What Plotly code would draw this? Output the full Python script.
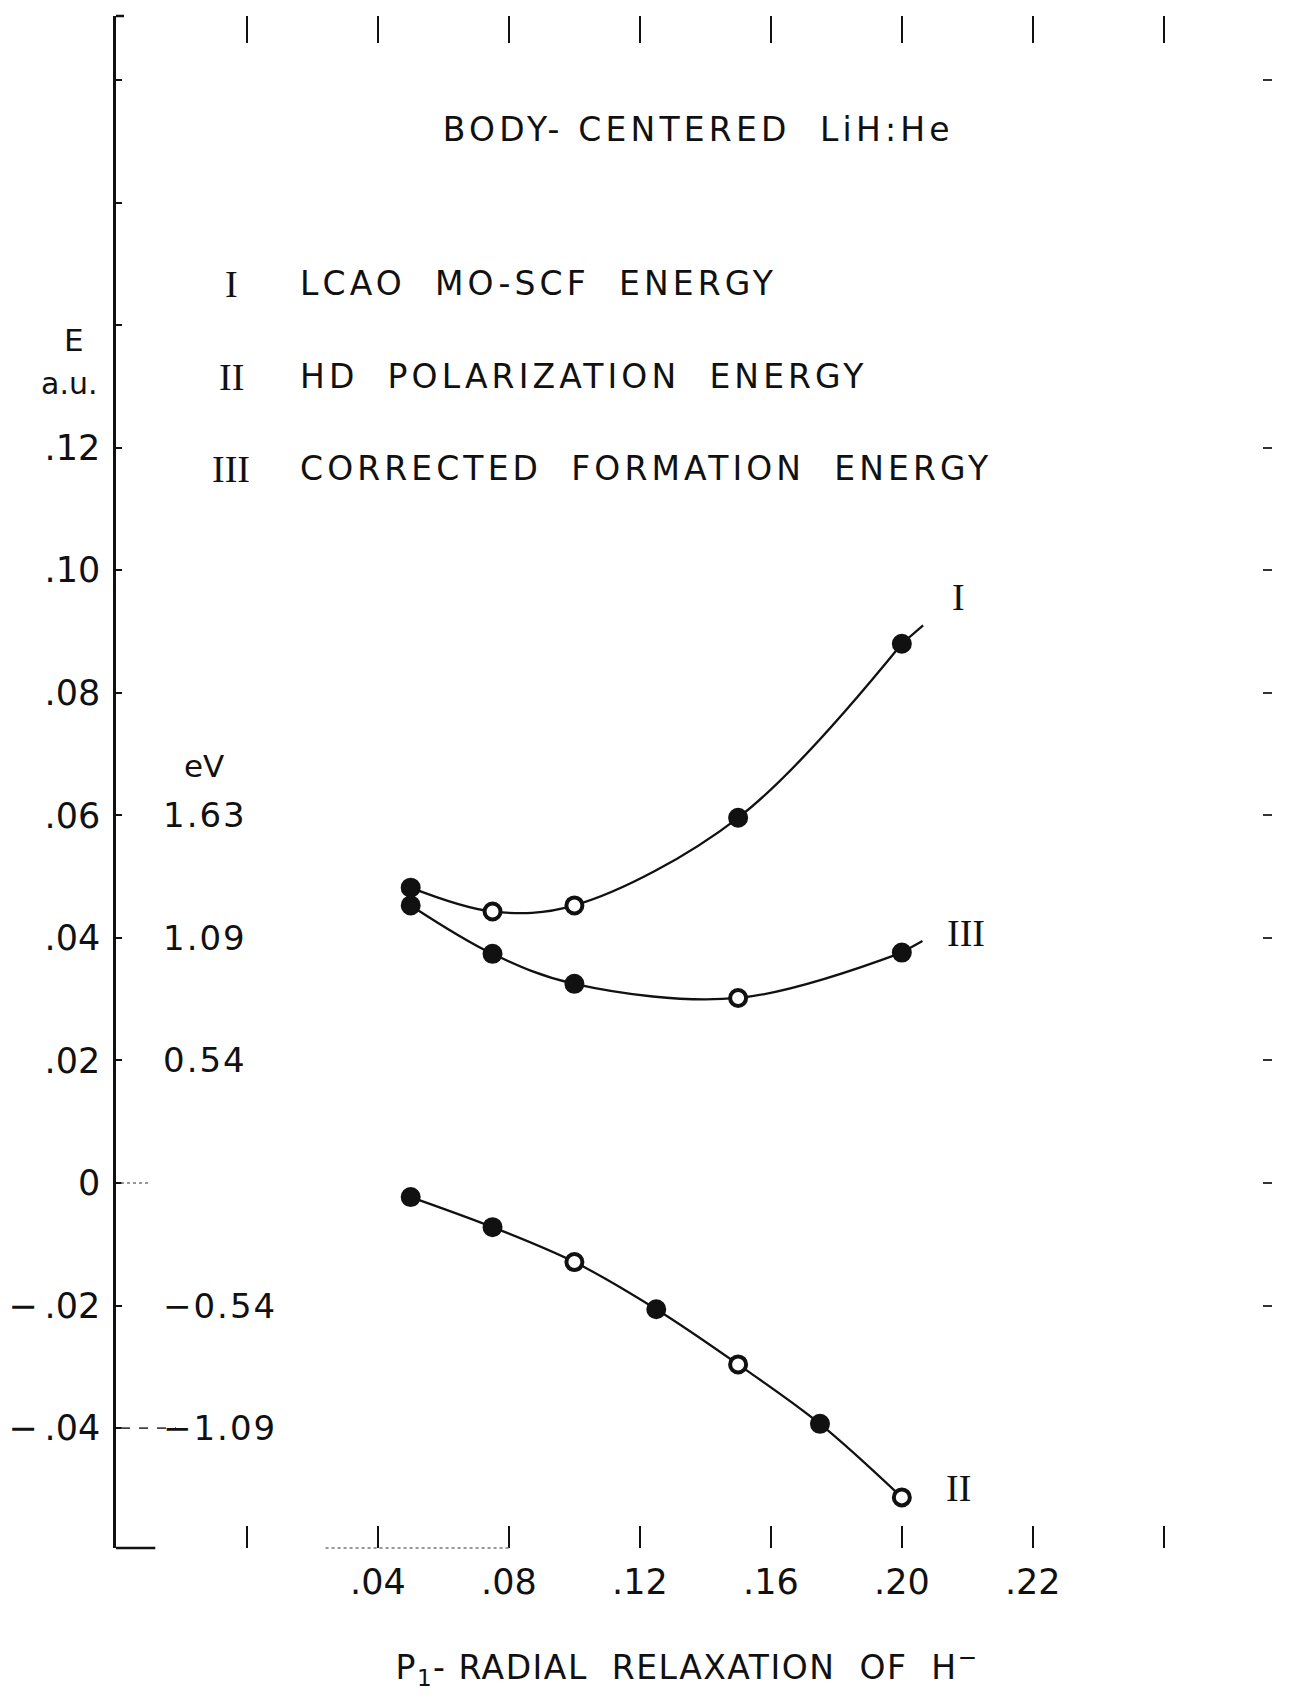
import json
import plotly.graph_objects as go

# ---------------- data ----------------
x_I = [0.05, 0.075, 0.10, 0.15, 0.20]
E_I = [0.0482, 0.0443, 0.0453, 0.0596, 0.0880]
open_I = [False, True, True, False, False]
end_I = (0.2065, 0.0910)          # where the drawn curve I stops

x_III = [0.05, 0.075, 0.10, 0.15, 0.20]
E_III = [0.0453, 0.0374, 0.0325, 0.0302, 0.0376]
open_III = [False, False, False, True, False]
end_III = (0.2063, 0.0395)        # where the drawn curve III stops

x_II = [0.05, 0.075, 0.10, 0.125, 0.15, 0.175, 0.20]
E_II = [-0.0023, -0.0072, -0.0129, -0.0206, -0.0296, -0.0393, -0.0513]
open_II = [False, False, True, False, True, False, True]

xtick_vals = [0.0, 0.04, 0.08, 0.12, 0.16, 0.20, 0.24, 0.28]
xtick_text = ["", ".04", ".08", ".12", ".16", ".20", ".22", ""]

ytick_vals = [-0.04, -0.02, 0.0, 0.02, 0.04, 0.06, 0.08, 0.10, 0.12, 0.14, 0.16, 0.18]
ytick_text = ["\u2212\u2009.04", "\u2212\u2009.02", "0", ".02", ".04", ".06", ".08", ".10", ".12", "", "", ""]
right_tick_vals = [-0.02, 0.0, 0.02, 0.04, 0.06, 0.08, 0.10, 0.12, 0.18]

ev_levels = [0.06, 0.04, 0.02, -0.02, -0.04]
ev_text = ["1.63", "1.09", "0.54", "\u22120.54", "\u22121.09"]

legend_num = ["I", "II", "III"]
legend_text = ["LCAO  MO-SCF  ENERGY", "HD  POLARIZATION  ENERGY", "CORRECTED  FORMATION  ENERGY"]

title_text = "BODY- CENTERED  LiH:He"
xaxis_title = "P<sub>1</sub>- RADIAL  RELAXATION  OF  H<sup>\u2212</sup>"

# ---------------- layout geometry ----------------
OFF = 8                         # browser body margin
PAGE_W, PAGE_H = 1289, 1697
PL, PT, PR_, PB = 116, 16, 1262, 1548   # plot area on the page
PW, PH = PR_ - PL, PB - PT
W, H = PAGE_W - 2 * OFF, PAGE_H - 2 * OFF
ML, MT = PL - OFF, PT - OFF
MR, MB = W - ML - PW, H - MT - PH
X_RANGE = [-0.04, 0.3100]
Y_RANGE = [-0.05956, 0.19044]

def px(x):
    return (x - PL) / PW

def py(y):
    return (PB - y) / PH

SANS = "DejaVu Sans"
SERIF = "Liberation Serif"
BLACK = "#111111"

fig = go.Figure()

def add_curve(xs, ys, opens, end=None):
    fig.add_trace(go.Scatter(x=xs, y=ys, mode="lines",
                             line=dict(color=BLACK, width=2.3, shape="spline", smoothing=1.0),
                             hoverinfo="skip", showlegend=False))
    if end is not None:
        fig.add_trace(go.Scatter(x=[xs[-1], end[0]], y=[ys[-1], end[1]], mode="lines",
                                 line=dict(color=BLACK, width=2.3),
                                 hoverinfo="skip", showlegend=False))
    fig.add_trace(go.Scatter(x=xs, y=ys, mode="markers",
                             marker=dict(size=16,
                                         color=["white" if o else BLACK for o in opens],
                                         line=dict(color=BLACK, width=4)),
                             showlegend=False))

add_curve(x_I, E_I, open_I, end_I)
add_curve(x_III, E_III, open_III, end_III)
add_curve(x_II, E_II, open_II)

# empty traces so the mirror axes (top ticks, right ticks) get drawn
fig.add_trace(go.Scatter(x=[None], y=[None], xaxis="x2", yaxis="y", showlegend=False))
fig.add_trace(go.Scatter(x=[None], y=[None], xaxis="x", yaxis="y2", showlegend=False))

fig.update_layout(
    width=W, height=H,
    margin=dict(l=ML, r=MR, t=MT, b=MB, autoexpand=False),
    paper_bgcolor="white", plot_bgcolor="white",
    showlegend=False,
    font=dict(family=SANS, color=BLACK, size=30),
    xaxis=dict(range=X_RANGE, tickvals=xtick_vals, ticktext=xtick_text,
               ticks="inside", ticklen=22, tickwidth=2, tickcolor=BLACK,
               showgrid=False, zeroline=False, showline=False,
               tickfont=dict(family=SANS, size=35, color=BLACK),
               ticklabelstandoff=10),
    xaxis2=dict(range=X_RANGE, overlaying="x", side="top", anchor="y",
                tickvals=xtick_vals, ticks="inside", ticklen=27, tickwidth=2,
                tickcolor=BLACK, showticklabels=False, showgrid=False,
                zeroline=False, showline=False),
    yaxis=dict(range=Y_RANGE, tickvals=ytick_vals, ticktext=ytick_text,
               ticks="inside", ticklen=6, tickwidth=2, tickcolor=BLACK,
               showgrid=False, zeroline=False, showline=True, linewidth=2.5,
               linecolor=BLACK, tickfont=dict(family=SANS, size=35, color=BLACK),
               ticklabelstandoff=6),
    yaxis2=dict(range=Y_RANGE, overlaying="y", side="right", anchor="x",
                tickvals=right_tick_vals, ticks="outside", ticklen=9, tickwidth=2,
                tickcolor="#333333", showticklabels=False, showgrid=False,
                zeroline=False, showline=False),
)

# partial bottom axis line (solid stub + faint dotted part)
fig.add_shape(type="line", xref="x", yref="paper", x0=X_RANGE[0], x1=-0.028, y0=0, y1=0,
              line=dict(color=BLACK, width=2.5))
fig.add_shape(type="line", xref="x", yref="paper", x0=0.024, x1=0.08, y0=0, y1=0,
              line=dict(color="#777777", width=1.5, dash="dot"))
# bracket top of left axis
fig.add_shape(type="line", xref="paper", yref="paper", x0=0, x1=px(124), y0=1, y1=1,
              line=dict(color=BLACK, width=2.5))
# dashed leader from the axis to the -1.09 eV label, dotted one after "0"
fig.add_shape(type="line", xref="paper", yref="y", x0=px(121), x1=px(176),
              y0=ev_levels[-1], y1=ev_levels[-1],
              line=dict(color="#444444", width=1.8, dash="dash"))
fig.add_shape(type="line", xref="paper", yref="y", x0=px(121), x1=px(150),
              y0=0, y1=0, line=dict(color="#777777", width=1.5, dash="dot"))

ann = []
spacing = []   # letter spacing (px) per annotation, applied after rendering

def add_ann(text, x, y, xanchor="center", size=30, family=SANS, yref="paper", ls=0):
    ann.append(dict(text=text, xref="paper", yref=yref, x=x, y=y,
                    xanchor=xanchor, yanchor="middle", align=("left" if xanchor == "left" else
                                                              "right" if xanchor == "right" else "center"),
                    showarrow=False, font=dict(family=family, size=size, color=BLACK)))
    spacing.append(ls)

# title
add_ann(title_text, px(698), py(130), size=33, ls=4.2)
# legend block
for num, txt, yy in zip(legend_num, legend_text, [283.6, 376.6, 468.6]):
    add_ann(num, px(231), py(yy), size=38, family=SERIF)
    add_ann(txt, px(298), py(yy), xanchor="left", size=33, ls=4.1)
# E a.u.
add_ann("E", px(74), py(340), size=31)
add_ann("a.u.", px(69), py(384), size=30)
# eV scale
add_ann("eV", px(204), py(766), size=31)
for lvl, txt in zip(ev_levels, ev_text):
    if txt.startswith("\u2212"):
        add_ann(txt, px(279), lvl, xanchor="right", size=34, yref="y", ls=2)
    else:
        add_ann(txt, px(161), lvl, xanchor="left", size=34, yref="y", ls=2)
# curve labels
for txt, (xx, yy) in zip(["I", "III", "II"], [(958, 597), (966, 933), (958, 1488)]):
    add_ann(txt, px(xx), py(yy), size=38, family=SERIF)
# x axis title
add_ann(xaxis_title, px(687), py(1667), size=33, ls=1.5)

fig.update_layout(annotations=ann)

post_js = """
(function(){
  var sp = %s;
  var gd = document.getElementById('{plot_id}');
  var els = gd.querySelectorAll('.annotation');
  els.forEach(function(g){
    var i = parseInt(g.getAttribute('data-index'));
    if (isNaN(i) || !sp[i]) return;
    var t = g.querySelector('.annotation-text');
    if (t) { t.style.letterSpacing = sp[i] + 'px'; }
  });
})();
""" % json.dumps(spacing)

fig.write_html("out.html", post_script=post_js)
